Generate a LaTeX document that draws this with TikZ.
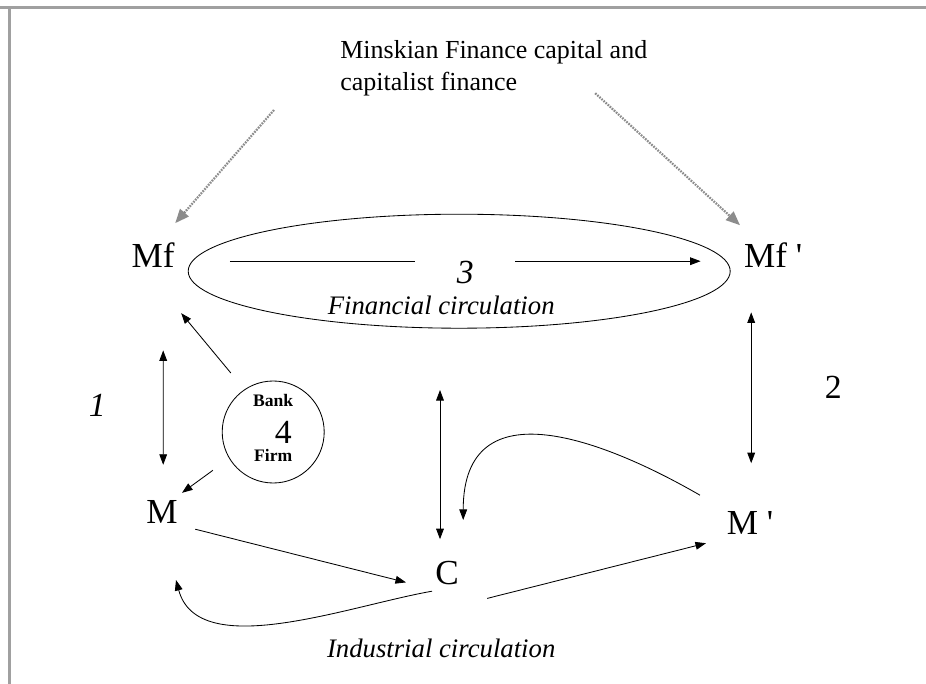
\documentclass[tikz,border=0pt]{standalone}
\usepackage{fontspec}
\setmainfont{Liberation Serif}
\usetikzlibrary{arrows.meta,positioning,shapes.geometric,calc}
\definecolor{feedgrey}{HTML}{8C8C8C}
\definecolor{framegrey}{HTML}{A0A0A0}

\begin{document}
\begin{tikzpicture}[
  term/.style={font=\fontsize{25}{30}\selectfont, inner sep=2pt},
  tag/.style={font=\fontsize{24}{28}\selectfont, inner sep=1pt},
  numi/.style={tag, font=\fontsize{24}{28}\selectfont\itshape},
  circ/.style={font=\fontsize{19}{23}\selectfont\itshape, inner sep=1pt},
  head/.style={font=\fontsize{18.5}{23}\selectfont, align=left, inner sep=0pt},
  who/.style={font=\fontsize{12.5}{14}\selectfont\bfseries, inner sep=0pt},
  loopring/.style={draw, ellipse, line width=0.6pt,
                   minimum width=13.55cm, minimum height=2.85cm},
  bankring/.style={draw, circle, line width=0.6pt, minimum size=2.55cm},
  flow/.style={-{Triangle[length=7.5pt, width=5.5pt]}, line width=0.6pt},
  both/.style={{Triangle[length=7.5pt, width=5.5pt]}-{Triangle[length=7.5pt, width=5.5pt]},
               line width=0.6pt},
  feed/.style={-{Triangle[length=10pt, width=8pt]}, feedgrey, line width=1.6pt,
               dash pattern=on 1.2pt off 0.8pt},
  rim/.style={framegrey, line width=2pt},
]
\useasboundingbox (0,0) rectangle (23.15,-17.1);

% ================= frame ===========================================
\draw[rim] (0,-0.18) -- (23.15,-0.18);
\draw[rim] (0.23,-0.18) -- (0.23,-17.1);

% ================= money forms =====================================
\node[term] (mf)  at (3.83,-6.38)  {Mf};
\node[term] (mfp) at (19.33,-6.38) {Mf \textquotesingle};
\node[term] (m)   at (4.05,-12.8)  {M};
\node[term] (c)   at (11.18,-14.33) {C};
\node[term] (mp)  at (18.75,-13.08) {M \textquotesingle};

% ================= circuits ========================================
\node[loopring] (fin) at (11.48,-6.78) {};
\node[circ] (finlbl) at (11.03,-7.63) {Financial circulation};
\node[circ] (indlbl) at (11.03,-16.2) {Industrial circulation};

\node[bankring] (bank) at (6.83,-10.8) {};
\node[who] (banklbl) at ($(bank)+(0,0.8)$) {Bank};
\node[tag] (four) at ($(bank)+(0.25,0)$) {4};
\node[who] (firmlbl) at ($(bank)+(0,-0.58)$) {Firm};

\node[numi] (one) at (2.43,-10.13) {1};
\node[tag]  (two) at (20.83,-9.68) {2};

\node[head, anchor=north west] (minsky) at (8.5,-1.0)
  {Minskian Finance capital and\\capitalist finance};

% ================= relations =======================================
% finance capital feeds both ends of the financial loop
\coordinate (feedl) at (6.85,-2.75);
\coordinate (feedr) at (14.88,-2.33);
\draw[feed] (feedl) -- ($(mf)+(0.55,0.8)$);
\draw[feed] (feedr) -- ($(mfp)+(-0.83,0.75)$);

% financial circulation
\draw[flow] ($(fin.west)+(1.05,0.25)$) --
  node[numi, fill=white, minimum width=2.5cm, minimum height=1cm, yshift=-0.27cm] (three) {3}
  ($(fin.east)+(-0.75,0.25)$);

% links between the two circuits
\draw[both] ($(mf)+(0.25,-2.38)$) -- ($(m)+(0.03,1.18)$);
\draw[both] ($(mfp)+(-0.55,-1.43)$) -- ($(mp)+(0.03,1.5)$);
\draw[both] ($(c)+(-0.18,0.85)$) -- ($(c)+(-0.18,4.58)$);

% bank and firm
\draw[flow, shorten <=0.53cm] (bank.124) -- ($(mf)+(0.7,-1.45)$);
\draw[flow, shorten <=0.5cm] (bank.211) -- ($(m)+(0.5,0.48)$);

% industrial circulation
\draw[flow] ($(m)+(0.83,-0.43)$) -- ($(c)+(-1.03,-0.23)$);
\draw[flow] ($(c)+(1.0,-0.63)$) -- ($(mp)+(-1.1,-0.5)$);
\draw[flow] ($(mp)+(-1.25,0.7)$)
  to[out=150, in=90, out distance=2.75cm, in distance=3.38cm] ($(c)+(0.4,1.33)$);
\draw[flow] ($(c)+(-0.38,-0.45)$) to[out=190, in=-75, looseness=0.85] ($(m)+(0.35,-1.7)$);

\end{tikzpicture}
\end{document}
